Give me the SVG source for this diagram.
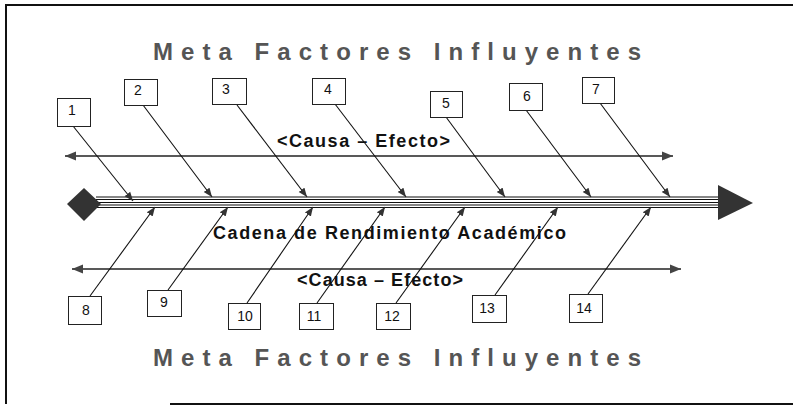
<svg xmlns="http://www.w3.org/2000/svg" width="793" height="406" viewBox="0 0 793 406">
<style>
.box{fill:#fff;stroke:#222;stroke-width:1}
.num{font-family:"Liberation Sans",Arial,sans-serif;font-size:14px;fill:#111;text-anchor:middle}
.bone{stroke:#111;stroke-width:1.1;fill:none}
.title{font-family:"Liberation Sans",Arial,sans-serif;font-size:24px;font-weight:bold;fill:#555}
.lbl{font-family:"Liberation Sans",Arial,sans-serif;font-size:18px;font-weight:bold;fill:#111}
.ce{stroke:#222;stroke-width:1.6;fill:none}
.spine{stroke:#111;stroke-width:1.2}
</style>
<defs>
<marker id="ah" viewBox="0 0 10 10" refX="10" refY="5" markerWidth="9" markerHeight="9" markerUnits="userSpaceOnUse" orient="auto">
<path d="M0,1 L10,5 L0,9 z" fill="#333"/>
</marker>
<marker id="ce" viewBox="0 0 10 10" refX="10" refY="5" markerWidth="11" markerHeight="11" markerUnits="userSpaceOnUse" orient="auto-start-reverse">
<path d="M0,1 L10,5 L0,9 z" fill="#444"/>
</marker>
</defs>
<rect width="793" height="406" fill="#fff"/>
<g id="frame" stroke="#111" stroke-width="2" fill="none">
<path d="M6,404 L6,5 L793,5"/>
<path d="M170,404 L793,404"/>
</g>
<g id="titles">
<text class="title" x="153" y="60" textLength="488" lengthAdjust="spacing">Meta Factores Influyentes</text>
<text class="title" x="153" y="366" textLength="488" lengthAdjust="spacing">Meta Factores Influyentes</text>
</g>
<g id="spine">
<line class="spine" x1="96" y1="197" x2="720" y2="197"/>
<line class="spine" x1="96" y1="199.5" x2="720" y2="199.5"/>
<line class="spine" x1="96" y1="202.5" x2="720" y2="202.5"/>
<line class="spine" x1="96" y1="205" x2="720" y2="205"/>
<line class="spine" x1="96" y1="207.5" x2="720" y2="207.5"/>
<path d="M84,188 L101,204 L84,221 L67,204 z" fill="#333"/>
<path d="M718,185 L753,203 L718,220 z" fill="#333"/>
<text class="lbl" x="213" y="239" textLength="353" lengthAdjust="spacing">Cadena de Rendimiento Académico</text>
</g>
<g id="cause-effect">
<line class="ce" x1="65" y1="156" x2="673" y2="156" marker-start="url(#ce)" marker-end="url(#ce)"/>
<text class="lbl" x="277" y="147" textLength="173" lengthAdjust="spacing">&lt;Causa – Efecto&gt;</text>
<line class="ce" x1="72" y1="269" x2="681" y2="269" marker-start="url(#ce)" marker-end="url(#ce)"/>
<text class="lbl" x="297" y="286" textLength="166" lengthAdjust="spacing">&lt;Causa – Efecto&gt;</text>
</g>
<g id="connectors">
<line class="bone" x1="73" y1="126" x2="133" y2="201" marker-end="url(#ah)"/>
<line class="bone" x1="143" y1="105" x2="212" y2="197" marker-end="url(#ah)"/>
<line class="bone" x1="237" y1="105" x2="307" y2="197" marker-end="url(#ah)"/>
<line class="bone" x1="335" y1="104" x2="406" y2="197" marker-end="url(#ah)"/>
<line class="bone" x1="446" y1="117" x2="505" y2="197" marker-end="url(#ah)"/>
<line class="bone" x1="526" y1="110" x2="591" y2="197" marker-end="url(#ah)"/>
<line class="bone" x1="600" y1="103" x2="670" y2="197" marker-end="url(#ah)"/>
<line class="bone" x1="90" y1="296" x2="155" y2="207" marker-end="url(#ah)"/>
<line class="bone" x1="168" y1="290" x2="228" y2="207" marker-end="url(#ah)"/>
<line class="bone" x1="247" y1="303" x2="313" y2="207" marker-end="url(#ah)"/>
<line class="bone" x1="317" y1="303" x2="385" y2="207" marker-end="url(#ah)"/>
<line class="bone" x1="396" y1="303" x2="465" y2="207" marker-end="url(#ah)"/>
<line class="bone" x1="495" y1="295" x2="558" y2="207" marker-end="url(#ah)"/>
<line class="bone" x1="588" y1="294" x2="651" y2="207" marker-end="url(#ah)"/>
</g>
<g id="n1"><rect class="box" x="57.5" y="98.5" width="33" height="28"/><text class="num" x="72" y="115">1</text></g>
<g id="n2"><rect class="box" x="124.5" y="79.5" width="33" height="26"/><text class="num" x="138" y="95">2</text></g>
<g id="n3"><rect class="box" x="212.5" y="78.5" width="34" height="26"/><text class="num" x="226" y="94">3</text></g>
<g id="n4"><rect class="box" x="312.5" y="78.5" width="33" height="26"/><text class="num" x="328" y="94">4</text></g>
<g id="n5"><rect class="box" x="430.5" y="91.5" width="32" height="26"/><text class="num" x="446" y="108">5</text></g>
<g id="n6"><rect class="box" x="509.5" y="83.5" width="33" height="27"/><text class="num" x="527" y="101">6</text></g>
<g id="n7"><rect class="box" x="582.5" y="77.5" width="32" height="26"/><text class="num" x="596" y="94">7</text></g>
<g id="n8"><rect class="box" x="68.5" y="296.5" width="33" height="28"/><text class="num" x="86" y="315">8</text></g>
<g id="n9"><rect class="box" x="147.5" y="290.5" width="34" height="26"/><text class="num" x="164" y="307">9</text></g>
<g id="n10"><rect class="box" x="228.5" y="303.5" width="32" height="26"/><text class="num" x="245" y="321">10</text></g>
<g id="n11"><rect class="box" x="299.5" y="303.5" width="34" height="26"/><text class="num" x="314" y="321">11</text></g>
<g id="n12"><rect class="box" x="376.5" y="303.5" width="34" height="26"/><text class="num" x="392" y="321">12</text></g>
<g id="n13"><rect class="box" x="472.5" y="295.5" width="34" height="27"/><text class="num" x="487" y="313">13</text></g>
<g id="n14"><rect class="box" x="569.5" y="294.5" width="33" height="28"/><text class="num" x="584" y="313">14</text></g>
</svg>
